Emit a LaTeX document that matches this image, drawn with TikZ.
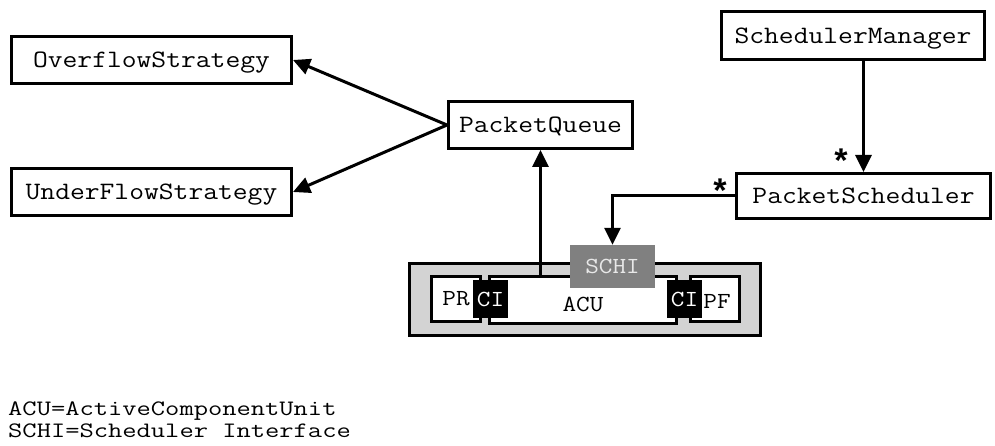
\documentclass[tikz,border=0pt]{standalone}
\usepackage{fontspec}
\setmonofont{Latin Modern Mono}[FakeStretch=1.15]
\newfontfamily\legendfont{Latin Modern Mono}[FakeStretch=1.26]
\newfontfamily\starfont{Liberation Mono}
\usetikzlibrary{arrows.meta,calc}
\definecolor{shellgray}{HTML}{D3D3D3}
\definecolor{ifgray}{HTML}{808080}
\definecolor{iftext}{HTML}{E8E8E8}
\begin{document}
\begin{tikzpicture}[x=1pt,y=-1pt,
  box/.style={draw, line width=3pt, fill=white, inner sep=0pt,
    font=\ttfamily\fontsize{25}{30}\selectfont, text height=15.3pt, text depth=0pt},
  part/.style={draw, line width=3pt, fill=white, inner sep=0pt},
  small/.style={inner sep=0pt, font=\ttfamily\fontsize{23}{28}\selectfont,
    text height=14pt, text depth=0pt},
  link/.style={line width=3pt, -{Triangle[length=17pt,width=16pt]}},
  mult/.style={font=\starfont\bfseries\fontsize{34}{36}\selectfont, inner sep=0pt, anchor=base},
  legend/.style={anchor=base west, inner sep=0pt, font=\legendfont\fontsize{22}{26}\selectfont}]
\useasboundingbox (0,0) rectangle (995,446);

% class boxes
\node[box, minimum width=280pt, minimum height=47pt] (OS) at (151.5,60) {OverflowStrategy};
\node[box, minimum width=280pt, minimum height=47pt] (US) at (151.5,192) {UnderFlowStrategy};
\node[box, minimum width=184pt, minimum height=47pt] (PQ) at (540.5,125) {PacketQueue};
\node[box, minimum width=263pt, minimum height=48pt] (SM) at (853,36) {SchedulerManager};
\node[box, minimum width=254pt, minimum height=45pt] (PS) at (863.5,196) {PacketScheduler};

% active component with its parts and interfaces
\node[draw, line width=3pt, fill=shellgray, minimum width=351pt, minimum height=72pt] (G) at (585,299.5) {};
\node[part, minimum width=49pt, minimum height=45pt] (PRb) at (456,299) {};
\node[part, minimum width=187pt, minimum height=47pt] (ACU) at (583,300) {};
\node[part, minimum width=49pt, minimum height=45pt] (PFb) at (715,299) {};
\node[small] at (456,298) {PR};
\node[small] at (583,304) {ACU};
\node[small] at (717,301) {PF};
\node[small, fill=black, text=white, minimum width=35pt, minimum height=38pt] (CIL) at (490.5,299) {CI};
\node[small, fill=black, text=white, minimum width=35pt, minimum height=38pt] (CIR) at (684.5,299) {CI};
\node[small, fill=ifgray, text=iftext, minimum width=85pt, minimum height=43pt] (SCHI) at (612.5,266.5) {SCHI};

% associations
\draw[link] (PQ.west) -- (OS.east);
\draw[link] (PQ.west) -- (US.east);
\draw[link] (ACU.north -| PQ.south) -- (PQ.south);
\draw[link] (SM.south -| PS.north) -- (PS.north);
\draw[link] (PS.west) -| (SCHI.north);

% multiplicities
\node[mult] (m1) at (841,174) {*};
\node[mult] (m2) at (720,204) {*};

% legend
\node[legend] (L1) at (8,415) {ACU=ActiveComponentUnit};
\node[legend] (L2) at (8,437) {SCHI=Scheduler Interface};
\end{tikzpicture}
\end{document}
